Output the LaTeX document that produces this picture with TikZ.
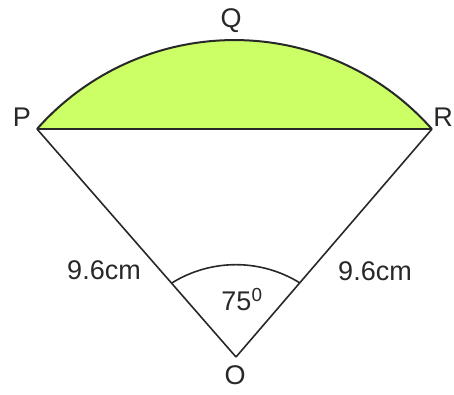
\documentclass[tikz,border=0pt]{standalone}
\usepackage{fontspec}
\setmainfont{Liberation Sans}
\definecolor{segfill}{RGB}{204,255,102}
\definecolor{ink}{RGB}{40,40,40}
\begin{document}
\begin{tikzpicture}[x=1pt,y=1pt,
  lbl/.style={font=\fontsize{27}{30}\selectfont, text=ink, inner sep=0pt},
  edge/.style={draw=ink, line width=1.6pt}]
\useasboundingbox (0,0) rectangle (454,394);
\coordinate (O) at (236,37);
\coordinate (P) at (37,265);
\coordinate (R) at (432,265);
% segment
\fill[segfill] (P) arc[start angle=138.5, end angle=41.5, radius=263.6] -- cycle;
\draw[draw=ink, line width=2pt] (P) arc[start angle=138.5, end angle=41.5, radius=263.6];
\draw[edge] (P) -- (R);
\draw[edge] (O) -- (P);
\draw[edge] (O) -- (R);
% angle arc
\coordinate (A1) at (171.8,111);
\draw[edge] (A1) arc[start angle=121.9, end angle=58.1, radius=121.3];
% labels
\node[lbl] (lP) at (22,277) {P};
\node[lbl] (lR) at (443,277) {R};
\node[lbl] (lQ) at (231,373) {Q};
\node[lbl] (lO) at (235,19) {O};
\node[lbl] (l1) at (104,124) {9.6cm};
\node[lbl] (l2) at (375,123) {9.6cm};
\node[lbl] (la) at (242,94) {75\textsuperscript{0}};
\end{tikzpicture}
\end{document}
